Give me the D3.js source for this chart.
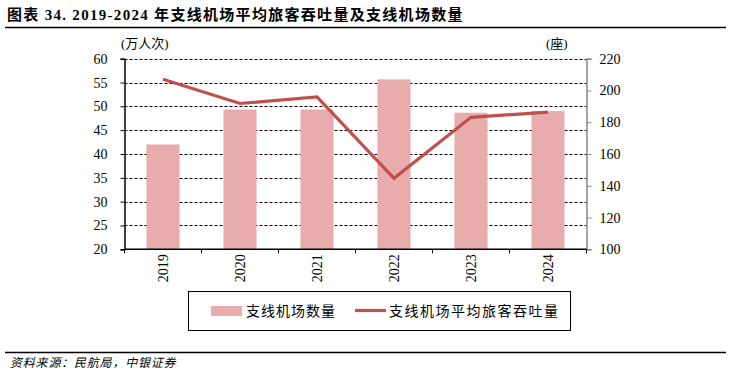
<!DOCTYPE html>
<html>
<head>
<meta charset="utf-8">
<script src="https://cdn.jsdelivr.net/npm/d3@7/dist/d3.min.js"></script>
<style>
  body { margin: 0; background: #fff; }
  svg { display: block; }
</style>
</head>
<body>
<svg id="chart" width="731" height="374"></svg>
<script>
// data
const years = ["2019", "2020", "2021", "2022", "2023", "2024"];
const airportCount = [166, 188, 188, 207, 186, 187];          // 座, right axis (bars)
const avgThroughput = [55.7, 50.6, 52.0, 34.9, 47.7, 48.8];  // 万人次, left axis (line)
const leftTicks = [20, 25, 30, 35, 40, 45, 50, 55, 60];
const rightTicks = [100, 120, 140, 160, 180, 200, 220];

const svg = d3.select("#chart");
const serif = "'Liberation Serif', 'Times New Roman', serif";
const cjk = "'Noto Sans CJK SC', sans-serif";
const mixed = "'Liberation Serif', 'Noto Sans CJK SC', serif";

const plot = {left: 124.5, right: 586.5, top: 58.7, bottom: 249.3};

const x = d3.scaleBand()
    .domain(years)
    .range([plot.left, plot.right])
    .paddingInner(0.57)
    .paddingOuter(0.285);
const yL = d3.scaleLinear().domain([20, 60]).range([plot.bottom, plot.top]);
const yR = d3.scaleLinear().domain([100, 220]).range([plot.bottom, plot.top]);

// title
svg.append("text")
    .attr("x", 7).attr("y", 20)
    .attr("font-family", mixed)
    .attr("font-weight", "bold")
    .attr("font-size", 15)
    .attr("letter-spacing", 1.3)
    .text("图表 34. 2019-2024 年支线机场平均旅客吞吐量及支线机场数量");
svg.append("line")
    .attr("x1", 5).attr("x2", 726).attr("y1", 27.5).attr("y2", 27.5)
    .attr("stroke", "#000").attr("stroke-width", 1.5);

// gridlines
svg.append("g").selectAll("line")
    .data(leftTicks.slice(1))
    .join("line")
    .attr("x1", plot.left).attr("x2", plot.right)
    .attr("y1", d => Math.round(yL(d)) + 0.5).attr("y2", d => Math.round(yL(d)) + 0.5)
    .attr("stroke", "#000")
    .attr("stroke-width", 1)
    .attr("stroke-dasharray", "3,2");

// bars
svg.append("g").selectAll("rect")
    .data(years)
    .join("rect")
    .attr("x", d => x(d))
    .attr("width", x.bandwidth())
    .attr("y", (d, i) => yR(airportCount[i]))
    .attr("height", (d, i) => plot.bottom - yR(airportCount[i]))
    .attr("fill", "#E8ACAC");

// line
const line = d3.line()
    .x((d, i) => x(years[i]) + x.bandwidth() / 2)
    .y(d => yL(d));
svg.append("path")
    .datum(avgThroughput)
    .attr("d", line)
    .attr("fill", "none")
    .attr("stroke", "#C0504D")
    .attr("stroke-width", 3.2)
    .attr("stroke-linejoin", "miter");

// left axis
const gL = svg.append("g")
    .attr("transform", `translate(${plot.left},0)`)
    .call(d3.axisLeft(yL).tickValues(leftTicks).tickSize(4).tickPadding(13));
gL.select(".domain").attr("stroke", "#000").attr("stroke-width", 1.5);
gL.selectAll("text").attr("font-family", serif).attr("font-size", 14).attr("fill", "#000");

// right axis
const gR = svg.append("g")
    .attr("transform", `translate(${plot.right},0)`)
    .call(d3.axisRight(yR).tickValues(rightTicks).tickSize(5).tickPadding(8));
gR.select(".domain").attr("stroke", "#888").attr("stroke-width", 1.5);
gR.selectAll(".tick line").attr("stroke", "#888");
gR.selectAll("text").attr("font-family", serif).attr("font-size", 14).attr("fill", "#000");

// bottom axis
const gB = svg.append("g")
    .attr("transform", `translate(0,${plot.bottom})`);
gB.append("line")
    .attr("x1", plot.left).attr("x2", plot.right)
    .attr("stroke", "#000").attr("stroke-width", 1.5);
gB.selectAll("line.bt")
    .data(d3.range(years.length + 1))
    .join("line")
    .attr("class", "bt")
    .attr("x1", i => plot.left + i * x.step()).attr("x2", i => plot.left + i * x.step())
    .attr("y1", 0).attr("y2", 4)
    .attr("stroke", "#000").attr("stroke-width", 1);
gB.selectAll("text")
    .data(years)
    .join("text")
    .attr("transform", d => `translate(${x(d) + x.bandwidth() / 2},5) rotate(-90)`)
    .attr("text-anchor", "end")
    .attr("dy", "0.35em")
    .attr("font-family", serif)
    .attr("font-size", 14)
    .text(d => d);

// unit labels
svg.append("text")
    .attr("x", 121).attr("y", 48)
    .attr("font-family", mixed).attr("font-size", 13)
    .text("(万人次)");
svg.append("text")
    .attr("x", 546).attr("y", 48)
    .attr("font-family", mixed).attr("font-size", 13)
    .text("(座)");

// legend
const lg = svg.append("g");
lg.append("rect")
    .attr("x", 188.5).attr("y", 291.5).attr("width", 382).attr("height", 39)
    .attr("fill", "none").attr("stroke", "#000").attr("stroke-width", 1);
lg.append("rect")
    .attr("x", 211).attr("y", 306).attr("width", 31).attr("height", 10)
    .attr("fill", "#E8ACAC");
lg.append("text")
    .attr("x", 246).attr("y", 316)
    .attr("font-family", cjk).attr("font-size", 14).attr("letter-spacing", 1)
    .text("支线机场数量");
lg.append("line")
    .attr("x1", 355).attr("x2", 386).attr("y1", 310.5).attr("y2", 310.5)
    .attr("stroke", "#C0504D").attr("stroke-width", 3.2);
lg.append("text")
    .attr("x", 389).attr("y", 316)
    .attr("font-family", cjk).attr("font-size", 14).attr("letter-spacing", 1.5)
    .text("支线机场平均旅客吞吐量");

// footer
svg.append("line")
    .attr("x1", 5).attr("x2", 726).attr("y1", 352.5).attr("y2", 352.5)
    .attr("stroke", "#000").attr("stroke-width", 1.5);
svg.append("text")
    .attr("x", 10).attr("y", 367)
    .attr("font-family", cjk).attr("font-size", 12).attr("font-style", "italic")
    .attr("letter-spacing", 0.8)
    .text("资料来源：民航局，中银证券");
</script>
</body>
</html>
